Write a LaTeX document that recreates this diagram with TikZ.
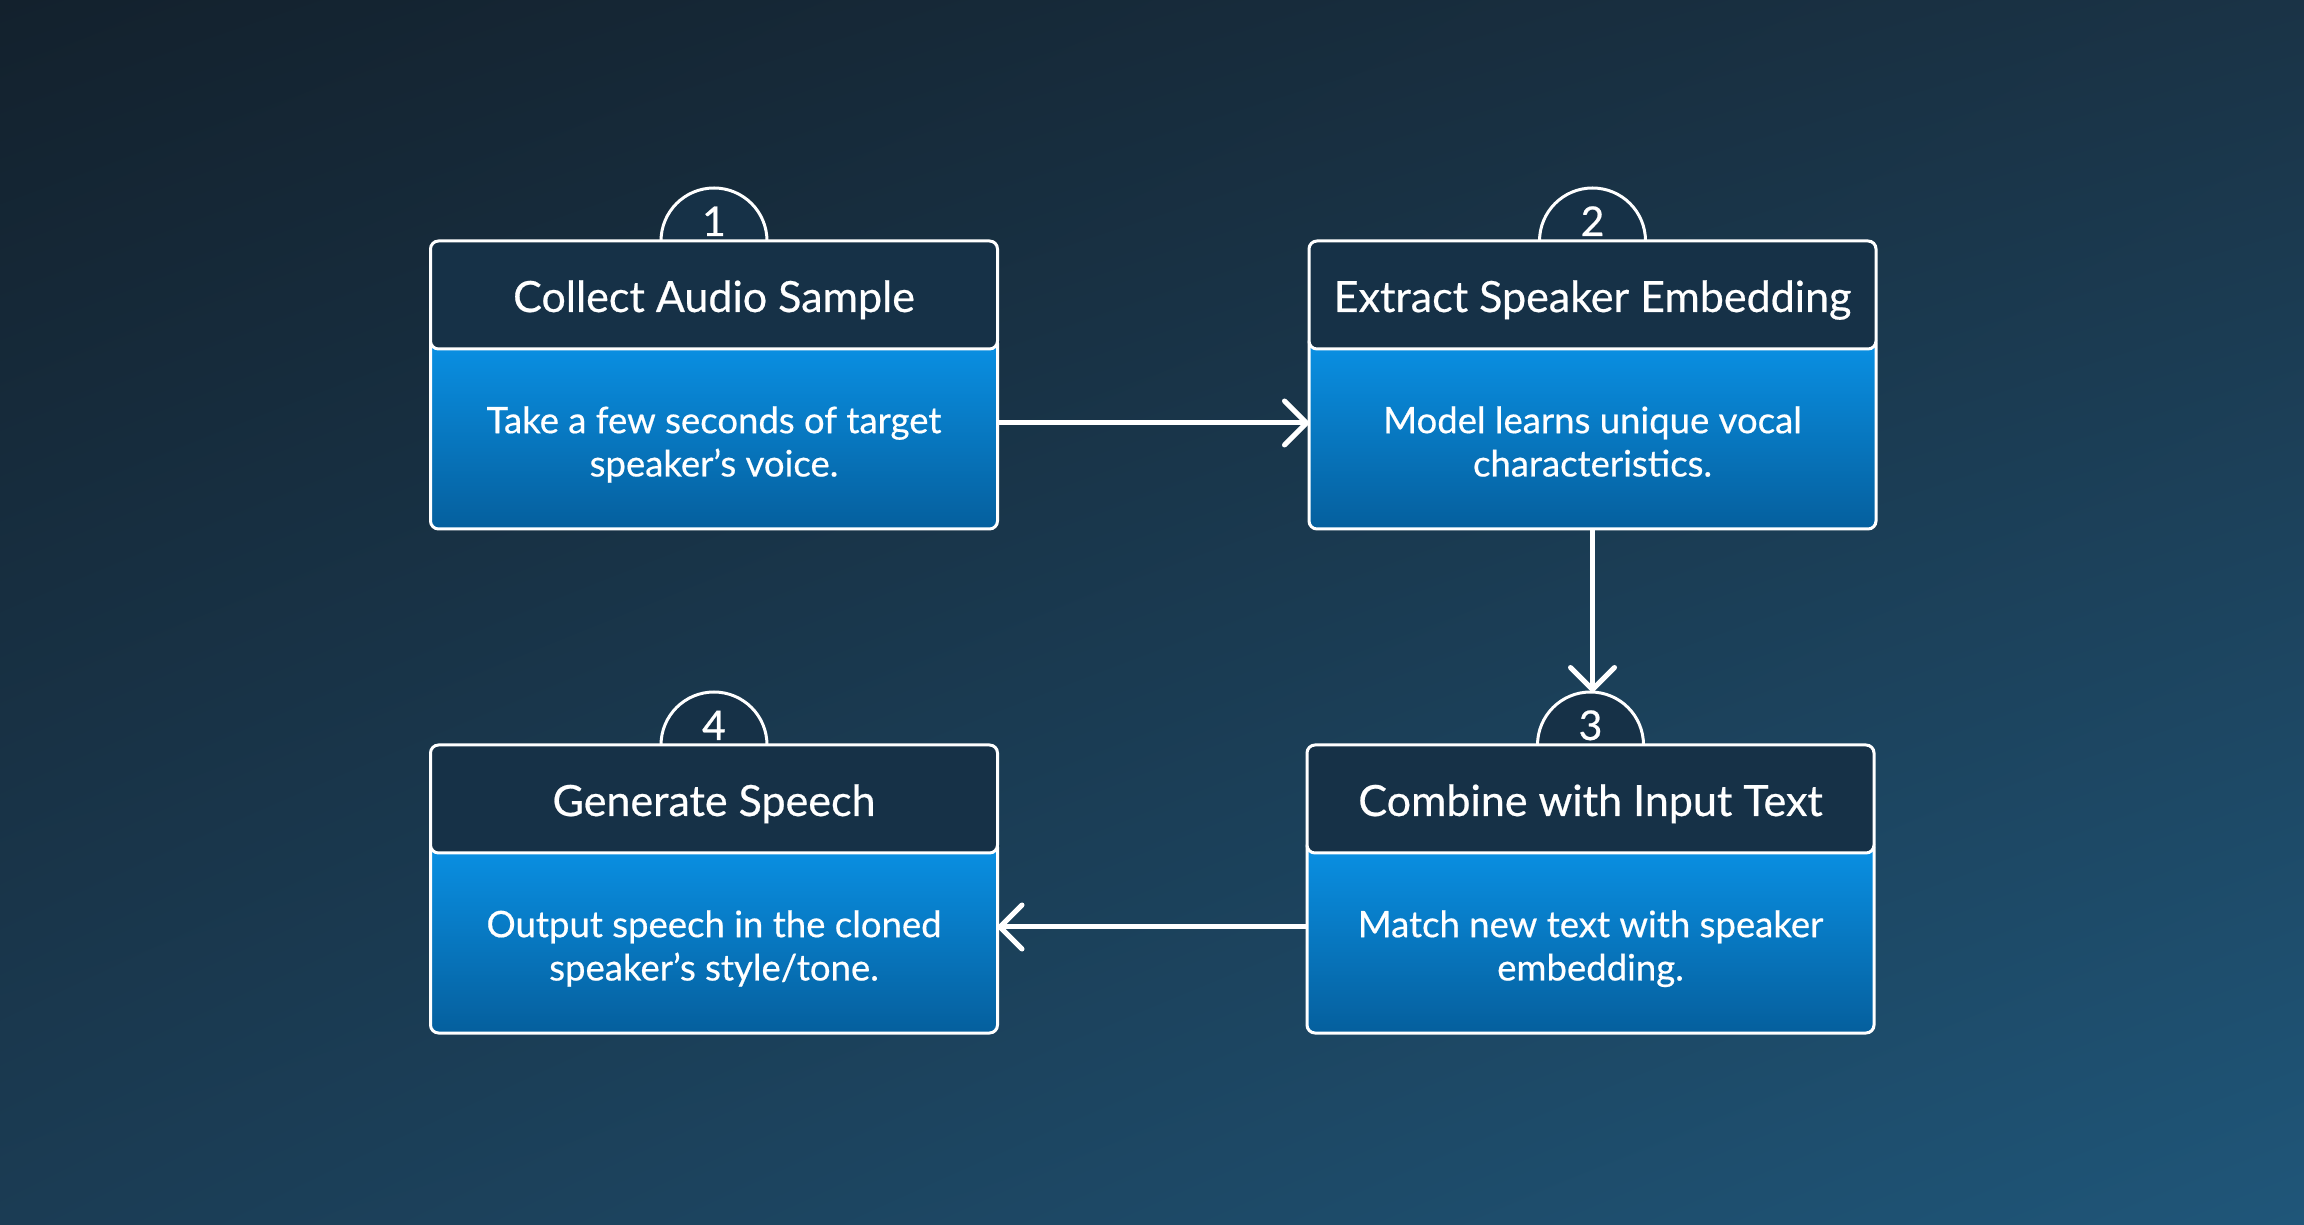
\documentclass[tikz,border=0pt]{standalone}
\usepackage{fontspec}
\setmainfont{Lato}[FakeBold=0.5]
\usetikzlibrary{arrows.meta,shadings}
\definecolor{bgTL}{HTML}{13212D}
\definecolor{bgTR}{HTML}{1A3346}
\definecolor{bgBL}{HTML}{1B3C54}
\definecolor{bgBR}{HTML}{1F5679}
\definecolor{headC}{HTML}{163147}
\definecolor{bodyTop}{HTML}{0A92E6}
\definecolor{bodyBot}{HTML}{055F9D}
\newcommand\titlefont{\fontsize{43}{50}\selectfont}
\newcommand\bodyfont{\fontsize{36.5}{43.3}\selectfont}
\newcommand\numfont{\fontsize{41}{48}\selectfont}
\newcommand\lstr{\rule[-8pt]{0pt}{32pt}}
\begin{document}
\begin{tikzpicture}[x=1pt,y=1pt,
  cardbody/.style={draw=white, line width=3pt, rounded corners=8pt, top color=bodyTop, bottom color=bodyBot, minimum width=567pt, minimum height=194pt, outer sep=0pt, inner sep=0pt},
  cardhead/.style={draw=white, line width=3pt, rounded corners=8pt, fill=headC, minimum width=567pt, minimum height=108pt, outer sep=0pt, inner sep=0pt},
  tabc/.style={circle, draw=white, line width=3pt, fill=headC, minimum size=106pt, inner sep=0pt, outer sep=0pt},
  numtxt/.style={text=white, font=\numfont, inner sep=0pt, anchor=base},
  titletxt/.style={text=white, font=\titlefont, inner sep=0pt, anchor=base},
  bodytxt/.style={text=white, font=\bodyfont, align=center, inner sep=0pt},
  flow/.style={draw=white, line width=5pt, -{Straight Barb[length=22pt,width=44pt,round]}}
]
\useasboundingbox (0,0) rectangle (2304,1224);
\shade[upper left=bgTL, upper right=bgTR, lower left=bgBL, lower right=bgBR] (0,0) rectangle (2304,1224);

% card 1
\node[tabc] (t1) at (714,983) {};
\node[cardbody] (b1) at (714,792) {};
\node[cardhead] (h1) at (714,929) {};
\node[numtxt] (n1) at (714,988) {1};
\node[titletxt] (l1) at (714,912) {Collect Audio Sample};
\node[bodytxt] (d1) at (714,778.6) {\lstr Take a few seconds of target\\\lstr speaker’s voice.};

% card 2
\node[tabc] (t2) at (1592.5,983) {};
\node[cardbody] (b2) at (1592.5,792) {};
\node[cardhead] (h2) at (1592.5,929) {};
\node[numtxt] (n2) at (1592.5,988) {2};
\node[titletxt] (l2) at (1592.5,912) {Extract Speaker Embedding};
\node[bodytxt] (d2) at (1592.5,778.6) {\lstr Model learns unique vocal\\\lstr characteristics.};

% card 3
\node[tabc] (t3) at (1590.5,479) {};
\node[cardbody] (b3) at (1590.5,288) {};
\node[cardhead] (h3) at (1590.5,425) {};
\node[numtxt] (n3) at (1590.5,484) {3};
\node[titletxt] (l3) at (1590.5,408) {Combine with Input Text};
\node[bodytxt] (d3) at (1590.5,274.6) {\lstr Match new text with speaker\\\lstr embedding.};

% card 4
\node[tabc] (t4) at (714,479) {};
\node[cardbody] (b4) at (714,288) {};
\node[cardhead] (h4) at (714,425) {};
\node[numtxt] (n4) at (714,484) {4};
\node[titletxt] (l4) at (714,408) {Generate Speech};
\node[bodytxt] (d4) at (714,274.6) {\lstr Output speech in the cloned\\\lstr speaker’s style/tone.};

% connectors
\draw[flow] ([yshift=9pt]b1.east) -- ([yshift=9pt]b2.west);
\draw[flow] (b2.south) -- (b2.south |- t3.north);
\draw[flow] ([yshift=9pt]b3.west) -- ([yshift=9pt]b4.east);
\end{tikzpicture}
\end{document}
